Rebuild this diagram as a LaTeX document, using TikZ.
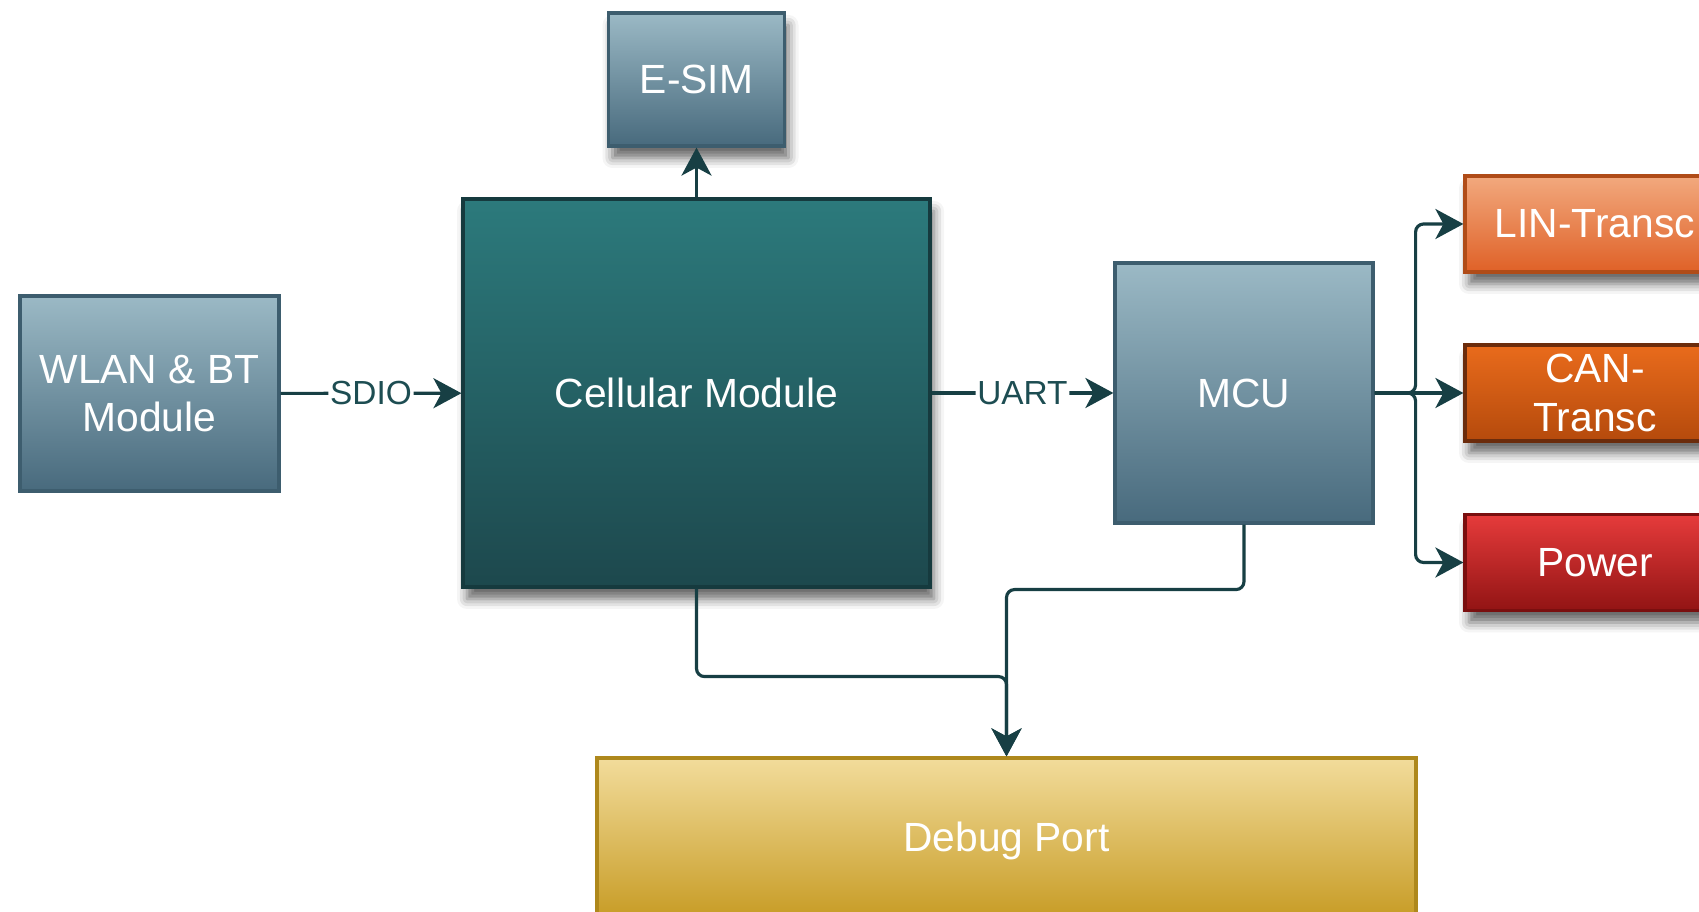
\documentclass[tikz,border=0pt]{standalone}
\usepackage{fontspec}
\setmainfont{Liberation Sans}
\usetikzlibrary{positioning, arrows.meta, calc, shadows.blur}

\definecolor{linec}{HTML}{173F44}
\definecolor{lblc}{HTML}{1D4D52}
\definecolor{steelT}{HTML}{9BB9C5}
\definecolor{steelB}{HTML}{486A7D}
\definecolor{steelD}{HTML}{3D5D6E}
\definecolor{tealT}{HTML}{2C7A7C}
\definecolor{tealB}{HTML}{1D484D}
\definecolor{tealD}{HTML}{163A3E}
\definecolor{linT}{HTML}{F2A97E}
\definecolor{linB}{HTML}{DF6127}
\definecolor{linD}{HTML}{B04C18}
\definecolor{canT}{HTML}{E96B1C}
\definecolor{canB}{HTML}{B54A0C}
\definecolor{canD}{HTML}{6B2C0C}
\definecolor{powT}{HTML}{E63B3B}
\definecolor{powB}{HTML}{921414}
\definecolor{powD}{HTML}{7A0F0F}
\definecolor{dbgT}{HTML}{F2DC9B}
\definecolor{dbgB}{HTML}{C69A22}
\definecolor{dbgD}{HTML}{AE881C}

\begin{document}
\begin{tikzpicture}[
    box/.style={draw, line width=0.9pt, text=white, align=center, inner sep=0pt,
                font=\fontsize{11.6}{13.8}\selectfont},
    shd/.style={blur shadow={shadow xshift=0.04cm, shadow yshift=-0.12cm,
                shadow blur radius=0.1cm, shadow opacity=60}},
    steel/.style={box, draw=steelD, top color=steelT, bottom color=steelB},
    conn/.style={draw=linec, line width=0.9pt, rounded corners=0.08cm,
                 -{Stealth[length=0.28cm, width=0.3cm, inset=0.08cm]}},
    lbl/.style={fill=white, text=lblc, inner sep=0.5pt, font=\fontsize{9.5}{11}\selectfont}
  ]
    \clip (0,0) rectangle (16.99,9.12);

    % blocks
    \node[steel, minimum width=2.59cm, minimum height=1.95cm] (wlan) at (1.495,5.185) {WLAN \& BT\\Module};
    \node[box, shd, draw=tealD, top color=tealT, bottom color=tealB,
          minimum width=4.67cm, minimum height=3.88cm] (cell) at (6.965,5.19) {Cellular Module};
    \node[steel, shd, minimum width=1.76cm, minimum height=1.33cm] (esim) at (6.965,8.325) {E-SIM};
    \node[steel, minimum width=2.58cm, minimum height=2.60cm] (mcu) at (12.44,5.19) {MCU};

    \node[box, shd, draw=linD, top color=linT, bottom color=linB,
          minimum width=2.6cm, minimum height=0.96cm] (lin) at (15.95,6.88) {LIN-Transc};
    \node[box, shd, draw=canD, top color=canT, bottom color=canB,
          minimum width=2.6cm, minimum height=0.96cm] (can) at (15.95,5.19) {CAN-\\Transc};
    \node[box, shd, draw=powD, top color=powT, bottom color=powB,
          minimum width=2.6cm, minimum height=0.96cm] (power) at (15.95,3.495) {Power};

    \node[box, draw=dbgD, top color=dbgT, bottom color=dbgB,
          minimum width=8.19cm, minimum height=1.65cm] (debug) at (10.065,0.715) {Debug Port};

    % links
    \draw[conn] (wlan) -- node[lbl] {SDIO} (cell);
    \draw[conn] (cell) -- node[lbl] {UART} (mcu);
    \draw[conn] (cell) -- (esim);

    \draw[conn] (mcu.east) -- ++(0.41,0) |- (lin.west);
    \draw[conn] (mcu.east) -- (can.west);
    \draw[conn] (mcu.east) -- ++(0.41,0) |- (power.west);

    \draw[conn] (cell.south) -- ++(0,-0.88) -| (debug.north);
    \draw[conn] (mcu.south) -- ++(0,-0.65) -| (debug.north);
\end{tikzpicture}
\end{document}
